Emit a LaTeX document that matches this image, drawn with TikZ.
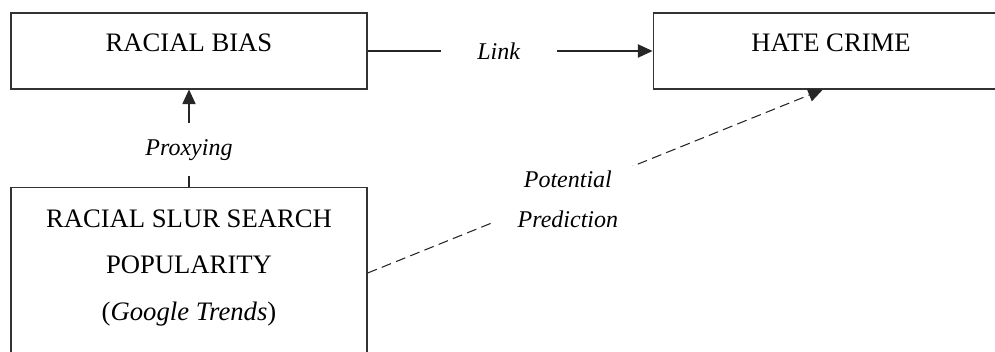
\documentclass[tikz,border=0pt]{standalone}
\usepackage{fontspec}
\setmainfont{Liberation Serif}
\usetikzlibrary{positioning, arrows.meta}

\begin{document}
\begin{tikzpicture}[x=0.75pt, y=-0.75pt, >={Triangle[length=11pt, width=10pt]},
    box/.style={draw=black!80, line width=0.8pt, text width=267pt, inner xsep=0pt, inner ysep=0pt,
        text height=29pt, text depth=28pt, align=flush center, font=\fontsize{20}{35}\selectfont},
    tag/.style={fill=white, align=center, font=\itshape\fontsize{18}{30}\selectfont},
    link/.style={draw=black!85, line width=0.8pt}]
    \useasboundingbox (0,0) rectangle (995,352);
    \clip (0,0) rectangle (995,352);

    \node[box] (bias) at (189,51) {RACIAL BIAS};
    \node[box] (crime) [right=213.75pt of bias] {HATE CRIME};
    \node[box, text height=30pt, text depth=99pt] (slur) [below=72.75pt of bias]
        {RACIAL SLUR SEARCH\\POPULARITY\\(\textit{Google Trends})};

    \path[->]
        (bias) edge[link] node[tag, pos=0.46, inner xsep=27.5pt] {Link} (crime)
        (slur) edge[link] node[tag, pos=0.38, inner ysep=12pt] {Proxying} (bias);
    \path[->]
        (slur.east) edge[link, dash pattern=on 7.5pt off 4pt]
            node[tag, pos=0.44, inner xsep=17pt, yshift=-5pt] {Potential\\Prediction} (crime.258);
\end{tikzpicture}
\end{document}
